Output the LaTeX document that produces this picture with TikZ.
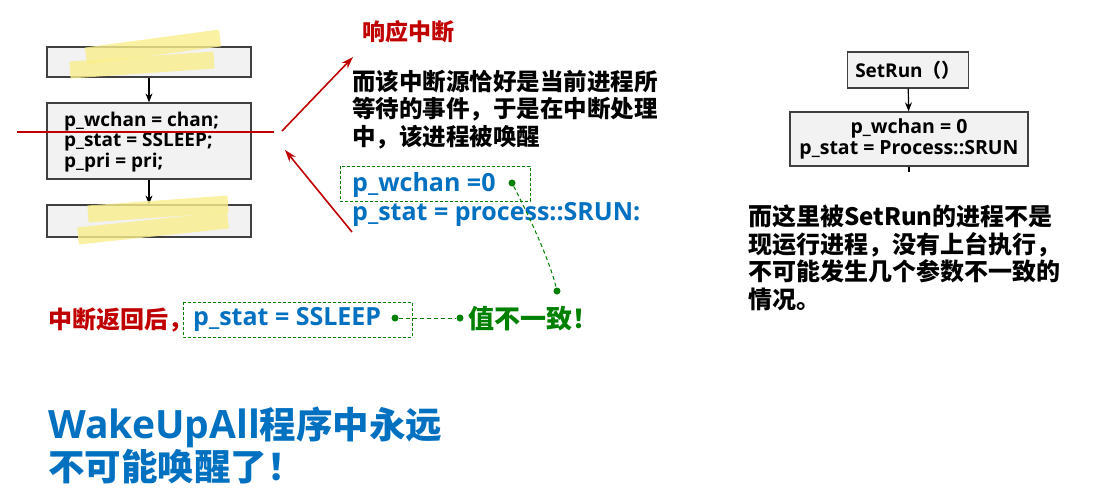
\documentclass[tikz,border=0pt]{standalone}
\usepackage{fontspec}
\setmainfont{Open Sans}
\newfontfamily\cjk{Noto Sans CJK SC}
\usetikzlibrary{arrows.meta}
\definecolor{ired}{RGB}{192,0,0}
\definecolor{iblue}{RGB}{0,112,192}
\definecolor{igreen}{RGB}{0,128,0}
\definecolor{boxfill}{RGB}{242,242,242}
\definecolor{boxline}{RGB}{64,64,64}
\definecolor{marker}{RGB}{250,238,140}
\tikzset{
  flowbox/.style={draw=boxline, fill=boxfill, line width=1.3pt, inner sep=0pt},
  flowarrow/.style={-{Stealth[length=9pt,width=7pt]}, line width=1.2pt, black},
  redarrow/.style={ired, line width=1.6pt, -{Stealth[length=12pt,width=8pt]}},
  greenbox/.style={draw=igreen, line width=1pt, dash pattern=on 3pt off 2pt},
  greenlink/.style={igreen, line width=1pt, dash pattern=on 4pt off 3pt},
  gdot/.style={circle, fill=igreen, inner sep=0pt, minimum size=7pt},
  hl/.style={marker, line width=17pt, opacity=0.8},
  txt/.style={inner sep=0pt, font=\bfseries},
}
\begin{document}
\begin{tikzpicture}[x=1pt,y=-1pt]
\useasboundingbox (0,0) rectangle (1093,496);

% --- left flow chart ---
\node[flowbox, minimum width=204pt, minimum height=30pt] (top) at (149,62) {};
\node[flowbox, minimum width=204pt, minimum height=76pt] (mid) at (149,141) {};
\node[flowbox, minimum width=204pt, minimum height=32pt] (bot) at (149,221) {};
\draw[flowarrow] (top) -- (mid);
\draw[flowarrow] (mid) -- (bot);
\node[txt, anchor=west, align=left, font=\bfseries\fontsize{19}{20.5}\selectfont] (code) at (64,142)
  {p\_wchan = chan;\\p\_stat = SSLEEP;\\p\_pri = pri;};

% highlighter strokes over the hidden boxes
\draw[hl] (86,56) -- (220,38);
\draw[hl] (70,70) -- (214,60);
\draw[hl] (88,214) -- (228,204);
\draw[hl] (78,236) -- (228,220);

% interrupt line and arrows
\coordinate (cutL) at (17,132);
\coordinate (cutR) at (274,132);
\draw[ired, line width=1.3pt] (cutL) -- (cutR);
\coordinate (fork) at (282,131);
\coordinate (tipA) at (353,57);
\coordinate (tailB) at (352,232);
\coordinate (tipB) at (285,150);
\draw[redarrow] (fork) -- (tipA);
\draw[redarrow] (tailB) -- (tipB);

\node[txt, anchor=west, text=ired, font=\cjk\bfseries\fontsize{23}{27}\selectfont] (irq) at (362,32) {响应中断};
\node[txt, anchor=north west, align=left, font=\cjk\bfseries\fontsize{23.5}{27.5}\selectfont] (why) at (352,70)
  {而该中断源恰好是当前进程所\\等待的事件，于是在中断处理\\中，该进程被唤醒};

% values set by the interrupt handler
\draw[greenbox] (340,166) rectangle (530,201);
\node[txt, anchor=west, text=iblue, font=\bfseries\fontsize{25}{28}\selectfont] (wz) at (352,185) {p\_wchan =0};
\node[txt, anchor=west, text=iblue, font=\bfseries\fontsize{25}{28}\selectfont] (sr) at (352,214) {p\_stat = process::SRUN:};
\node[gdot] (d1) at (512,183) {};
\node[gdot] (d2) at (557,291) {};
\draw[greenlink] (d1) .. controls (532,222) and (550,262) .. (d2);

% after return
\node[txt, anchor=west, text=ired, font=\cjk\bfseries\fontsize{24}{27}\selectfont] (ret) at (48,320) {中断返回后，};
\draw[greenbox] (183,302) rectangle (412,337);
\node[txt, anchor=west, text=iblue, font=\bfseries\fontsize{25}{28}\selectfont] (ss) at (193,319) {p\_stat = SSLEEP};
\node[gdot] (d3) at (395,318) {};
\node[gdot] (d4) at (460,318) {};
\draw[greenlink] (d3) -- (d4);
\node[txt, anchor=west, text=igreen, font=\cjk\bfseries\fontsize{26}{28}\selectfont] (bad) at (468,319) {值不一致！};

% title
\node[txt, anchor=north west, align=left, text=iblue, font=\cjk\bfseries\fontsize{36.5}{42}\selectfont] (title) at (48,407)
  {{\rmfamily\bfseries\fontsize{39}{42}\selectfont WakeUpAll}程序中永远\\不可能唤醒了！};

% --- right flow chart ---
\node[flowbox, minimum width=121pt, minimum height=36pt, font=\bfseries\fontsize{19}{20}\selectfont] (setrun) at (908,70) {SetRun{\cjk（）}};
\node[flowbox, minimum width=238pt, minimum height=54pt, align=center, font=\bfseries\fontsize{19.5}{21}\selectfont] (srun) at (909,139)
  {p\_wchan = 0\\p\_stat = Process::SRUN};
\draw[flowarrow] (setrun) -- (srun);
\coordinate (stub) at (909,172);
\draw[line width=1.2pt] (srun.south) -- (stub);

\node[txt, anchor=north west, align=left, font=\cjk\bfseries\fontsize{24}{27.5}\selectfont] (note) at (748,205)
  {而这里被SetRun的进程不是\\现运行进程，没有上台执行，\\不可能发生几个参数不一致的\\情况。};
\end{tikzpicture}
\end{document}
